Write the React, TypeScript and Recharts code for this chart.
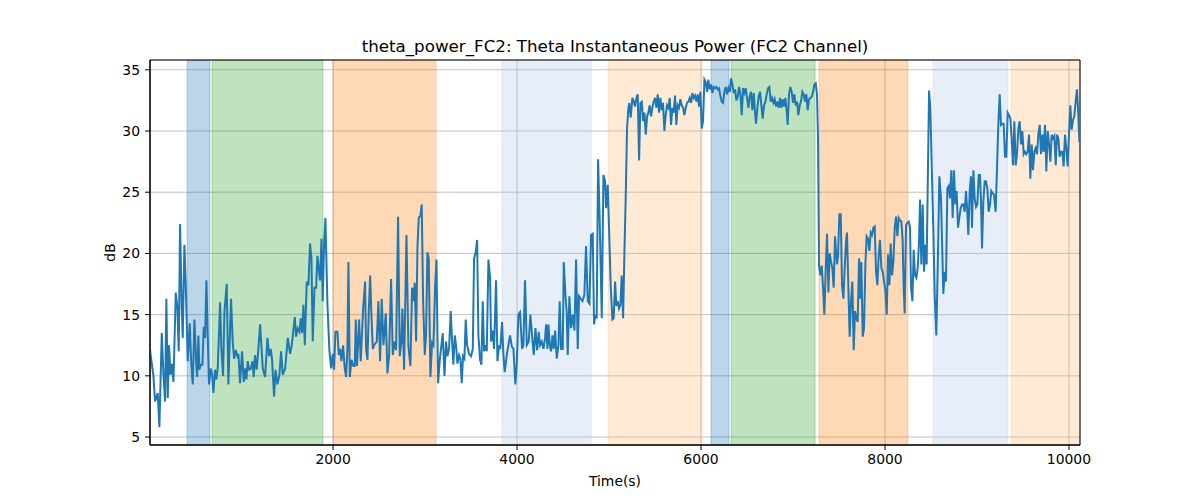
import React from 'react';
import { LineChart, Line, XAxis, YAxis, CartesianGrid, ReferenceArea, Label } from 'recharts';

// time (s) / power (dB) pairs
const seg1 = [
  [10, 12.2], [18, 11.6], [47, 10], [65, 7.9], [94, 8.6], [112, 5.8], [138, 13.5], [156, 10.1], [174, 7.9],
  [188, 16.3], [203, 8.2], [217, 12.5], [232, 10.1], [246, 11], [265, 9.5], [290, 16.8], [308, 15.5],
  [322, 12], [337, 22.4], [355, 15.5], [366, 13.1], [384, 20.7], [399, 17.4], [420, 11.2], [442, 14.3],
  [457, 11.2], [475, 9.3], [493, 14.6], [511, 11.2], [522, 9.9], [536, 13.3], [547, 10.5], [562, 10.9],
  [580, 10.9], [594, 14], [609, 13.1], [623, 17.8], [638, 13.1], [652, 9.3], [670, 10.6], [685, 10.1],
  [699, 8.6], [717, 10.5], [732, 9.7], [746, 10.6], [772, 16], [786, 12.2], [804, 10], [819, 15.2],
  [844, 17.5], [862, 9.3], [891, 16.3], [909, 12.8], [924, 11.4], [942, 12.1], [960, 11.6], [971, 11.8],
  [989, 9.4], [1011, 12], [1029, 9.5], [1043, 10.6], [1058, 9.7], [1072, 11.2], [1090, 10.5], [1109, 10.6],
  [1123, 11.2], [1138, 9.9], [1152, 11.7], [1170, 10.5], [1188, 12.2],
];
const seg2 = [
  [1207, 14.2], [1236, 10.6], [1261, 9.9], [1287, 13.1], [1305, 11.6], [1323, 12.2], [1337, 11.3],
  [1359, 8.3], [1374, 10.5], [1395, 9.3], [1417, 10.1], [1435, 12], [1453, 10.1], [1479, 10.6],
  [1508, 13.1], [1533, 11.8], [1551, 12.5], [1584, 14.8], [1598, 13.2], [1616, 13.9], [1635, 13.6],
  [1649, 14.7], [1664, 13.5], [1678, 15.8], [1693, 12.5], [1714, 17.7], [1732, 17.4], [1750, 20.8],
  [1765, 19.6], [1779, 12.8], [1798, 17.2], [1816, 17.2], [1830, 19.8], [1845, 18.7], [1859, 17.8],
  [1874, 21.2], [1888, 16.1], [1903, 21], [1917, 22.9], [1939, 15.8], [1961, 12], [1979, 10.6],
  [1997, 11.8], [2011, 10.5], [2026, 13.6], [2048, 13.6], [2062, 11.7], [2077, 12.2], [2091, 11.2],
  [2109, 12.5], [2127, 10.6], [2142, 9.9], [2156, 12.2], [2167, 19.3], [2182, 9.9], [2200, 11.3],
  [2221, 10.8], [2236, 10.8], [2247, 14.6], [2261, 10.8], [2283, 14.6], [2301, 11.2], [2327, 15.5],
  [2348, 17.7], [2359, 12.2], [2374, 11.3], [2388, 15.2], [2403, 18.2], [2417, 15], [2432, 12.2],
  [2446, 12.5],
];
const seg3 = [
  [2475, 12.8], [2493, 16.1], [2511, 11.2], [2529, 16.3], [2548, 12.5], [2573, 15.1], [2591, 10.2],
  [2609, 11.6], [2631, 17.9], [2649, 11.7], [2667, 12.8], [2685, 12.1], [2707, 23], [2725, 11.6],
  [2743, 12.8], [2754, 15.5], [2772, 10.5], [2798, 21.5], [2819, 12.4], [2841, 10.8], [2859, 17.2],
  [2874, 16.1], [2888, 17.6], [2903, 12.8], [2917, 20.4], [2932, 22.9], [2950, 23.1], [2964, 24],
  [2979, 16.1], [2997, 11.7], [3011, 13.3], [3026, 20.1], [3040, 19.6], [3058, 9.9], [3077, 12.7],
  [3091, 12.5], [3109, 17.2], [3124, 19.5], [3142, 9.4], [3160, 11.3], [3178, 12.5], [3192, 13.5],
  [3211, 10], [3229, 12.8], [3243, 11.6], [3261, 12.2], [3279, 15.3], [3294, 12.8], [3308, 10.9],
  [3323, 13.3], [3337, 12.5], [3352, 11], [3370, 11.7], [3384, 11.4], [3399, 9.4], [3413, 11.6],
  [3428, 11.4], [3442, 14.6], [3457, 12.5], [3479, 11.8], [3500, 11.6], [3519, 12.2], [3533, 19.6],
  [3551, 20.1], [3566, 21.1], [3580, 13.3], [3598, 11.3], [3613, 10.9], [3627, 16.1], [3642, 12],
  [3656, 12.5], [3671, 12], [3689, 19.5],
];
const seg4 = [
  [3707, 18], [3718, 12.8], [3736, 13.7], [3750, 12.2], [3772, 17.8], [3787, 11.2], [3805, 12.5],
  [3819, 12.2], [3837, 14.4], [3852, 11.7], [3866, 10.3], [3888, 11.7], [3906, 12.5], [3924, 13.3],
  [3943, 12.4], [3961, 12.2], [3982, 9.3], [3997, 10.9], [4015, 15], [4033, 15.2], [4055, 12.2],
  [4069, 12.5], [4087, 17.8], [4106, 12.5], [4127, 12.8], [4145, 15], [4163, 13.3], [4182, 11.7],
  [4200, 13.9], [4218, 12.1], [4236, 13.6], [4250, 12.5], [4269, 12.8], [4287, 12.2], [4305, 13.1],
  [4316, 14.2], [4330, 12.2], [4341, 14.2], [4356, 12.5], [4370, 12], [4385, 13.3], [4399, 12.2],
  [4414, 13.7], [4432, 11.4], [4450, 12.5], [4464, 16.1], [4479, 12.2], [4497, 12.2], [4508, 19.3],
  [4526, 16.6], [4540, 15.2], [4551, 11.7], [4569, 16.5], [4587, 13.9], [4606, 15], [4624, 13.7],
  [4642, 19.5], [4660, 12.2], [4674, 16.5], [4692, 16.3], [4711, 16.1], [4732, 16.6], [4750, 20.6],
  [4769, 16.1], [4787, 15.9], [4805, 21.5], [4823, 21.6], [4837, 14.2], [4852, 15], [4866, 14.7],
  [4881, 27.7], [4899, 22.6], [4921, 14.7], [4939, 26.4],
];
const seg5 = [
  [4957, 25.9], [4968, 23.7], [4986, 25.6], [5000, 22.1], [5019, 17.2], [5037, 14.6], [5051, 14.7],
  [5066, 17.7], [5080, 15.7], [5095, 16.1], [5109, 15.5], [5124, 15.8], [5138, 18.2], [5153, 14.7],
  [5167, 19.9], [5182, 24.8], [5196, 30.2], [5211, 31.9], [5221, 32.3], [5236, 31.1], [5254, 32.7],
  [5269, 32.4], [5283, 32], [5298, 32.7], [5312, 33], [5327, 27.6], [5341, 32.3], [5356, 32.4],
  [5370, 30.8], [5385, 31.5], [5399, 29.7], [5414, 31.2], [5428, 31.5], [5442, 32.1], [5457, 31.2],
  [5471, 31.9], [5486, 32.4], [5500, 32.7], [5515, 31.9], [5529, 33], [5544, 31.5], [5558, 32.7],
  [5573, 31.7], [5587, 32.3], [5602, 30], [5616, 31.3], [5631, 32.1], [5645, 31.9], [5660, 32.7],
  [5674, 30.5], [5689, 31.9], [5703, 31.5], [5718, 32.9], [5732, 30.5], [5747, 32.1], [5761, 31.9],
  [5776, 32.6], [5790, 32.1], [5805, 31.9], [5819, 31.3], [5834, 31.9], [5848, 32.3], [5863, 32.4],
  [5877, 32.7], [5892, 32.3], [5906, 33.1], [5921, 32.7], [5935, 32.9], [5950, 32.4], [5964, 33],
  [5979, 32], [5993, 33.2], [6008, 30.2], [6022, 30.8], [6037, 34.2], [6051, 34], [6066, 33.2],
  [6080, 34.2], [6095, 33.4], [6109, 33.8], [6124, 33.1], [6138, 33.6], [6153, 33.5], [6167, 33.6],
  [6182, 33.4], [6196, 33.5],
];
const seg6 = [
  [6207, 33], [6225, 32.4], [6240, 32.3], [6254, 33.2], [6269, 33.6], [6283, 33], [6298, 33.5],
  [6312, 33.2], [6327, 34.3], [6341, 33.8], [6356, 33.1], [6370, 33.4], [6385, 32.5], [6399, 32.8],
  [6414, 33.6], [6428, 33], [6443, 31.3], [6457, 33.5], [6471, 33.1], [6486, 33.5], [6500, 32.7],
  [6515, 31.9], [6529, 32.8], [6544, 33.2], [6558, 31.7], [6573, 33.1], [6587, 31.5], [6598, 30.6],
  [6613, 31.9], [6627, 32.8], [6642, 33.2], [6656, 32.1], [6671, 31], [6685, 32.1], [6700, 32.4],
  [6714, 33], [6729, 33.5], [6743, 33.6], [6758, 32.4], [6772, 32.7], [6787, 32.3], [6801, 32.6],
  [6816, 32], [6830, 32.4], [6845, 31.9], [6859, 32.7], [6874, 31.9], [6888, 32.6], [6903, 32],
  [6917, 32.7], [6932, 31.6], [6942, 30.5], [6957, 33], [6971, 33.6], [6986, 33.2], [7000, 32.3],
  [7015, 33], [7029, 32.1], [7044, 32.4], [7058, 31.3], [7073, 32.1], [7087, 32.4], [7102, 33.2],
  [7116, 33], [7131, 32.4], [7145, 33], [7160, 31.7], [7174, 32.6], [7189, 32.7], [7203, 32.8],
  [7218, 33.2], [7232, 33.8], [7247, 33.9], [7261, 33], [7272, 29.4], [7283, 19], [7298, 18.2],
  [7312, 19], [7327, 17.2], [7341, 15], [7356, 18.8], [7370, 21.6], [7385, 16.8], [7399, 20],
  [7414, 19.3], [7428, 18.8], [7442, 17.2],
];
const seg7 = [
  [7457, 21.4], [7468, 20.2], [7479, 19.1], [7490, 19.9], [7504, 23.2], [7519, 23.2], [7533, 17.4],
  [7548, 16.3], [7562, 18.8], [7577, 21], [7587, 21.7], [7602, 17.2], [7616, 13.2], [7631, 16.1],
  [7645, 17.7], [7660, 12.1], [7674, 15.3], [7689, 14.7], [7703, 14.4], [7718, 19.6], [7732, 16.3],
  [7743, 19.3], [7758, 13.2], [7772, 13.9], [7787, 19.1], [7801, 21.4], [7816, 21.2], [7830, 20.2],
  [7845, 21.7], [7859, 21.5], [7874, 22.1], [7888, 22.2], [7903, 18.5], [7917, 17.4], [7932, 19.9],
  [7946, 21.1], [7961, 18.8], [7975, 18.5], [7990, 17.7], [8004, 17], [8019, 15], [8033, 19.9],
  [8048, 17.4], [8062, 20.8], [8077, 18.2], [8091, 19.3], [8106, 22.1], [8120, 23], [8135, 21.4],
  [8149, 22.9], [8163, 22.7], [8178, 22.6], [8192, 21.1], [8203, 17.2], [8214, 15.1], [8229, 22.3],
  [8243, 22.5], [8258, 22.6], [8272, 22.1], [8283, 17.2], [8298, 16.1], [8312, 20.3], [8327, 18.2],
  [8341, 18], [8356, 18.8], [8370, 21], [8381, 24.4], [8395, 19.1], [8410, 24], [8424, 18.5],
  [8439, 20.7], [8453, 19.1], [8464, 25.1], [8479, 33.3], [8493, 31.9], [8508, 27.2], [8526, 21.8],
  [8540, 16.6], [8558, 13.3], [8577, 20.2], [8591, 26.3], [8609, 24.5], [8624, 19.9], [8634, 16.7],
  [8649, 18.5], [8663, 17.7], [8678, 25.3], [8692, 25.5],
];
const seg8 = [
  [8707, 24.5], [8721, 26.8], [8736, 22.9], [8750, 26.8], [8765, 24], [8779, 25.1], [8794, 22.1],
  [8808, 22.9], [8823, 23.7], [8837, 24], [8852, 24], [8866, 23.4], [8881, 25.1], [8895, 23.4],
  [8906, 21.5], [8921, 25.1], [8935, 26.3], [8946, 22.1], [8961, 26.8], [8975, 24.5], [8990, 23.8],
  [9004, 24], [9019, 26.4], [9033, 26.4], [9044, 24.2], [9055, 20.4], [9069, 24.2], [9084, 25.9],
  [9098, 25.9], [9113, 25.3], [9127, 23.4], [9142, 24], [9156, 25.1], [9171, 24.9], [9185, 24.8],
  [9203, 23.4], [9218, 27], [9232, 30.5], [9247, 33], [9261, 30.5], [9276, 30.6], [9290, 30.6],
  [9305, 27.9], [9319, 27.9], [9334, 31.5], [9348, 31.3], [9363, 31], [9377, 29.4], [9392, 27.2],
  [9406, 30.8], [9421, 27.2], [9435, 28.1], [9450, 30.2], [9464, 30.8], [9479, 28.9], [9493, 30],
  [9508, 28.1], [9522, 28.3], [9537, 28.1], [9551, 28.3], [9566, 29.7], [9580, 26.1], [9595, 28.9],
  [9609, 26.8], [9624, 28.3], [9638, 28.6], [9653, 28.1], [9667, 29.7], [9682, 30.5], [9696, 28.1],
  [9711, 29.7], [9725, 28.3], [9740, 30.5], [9754, 26.7], [9769, 30], [9783, 29], [9798, 27.5],
  [9812, 29.7], [9827, 29.4], [9841, 29.6], [9856, 27.2], [9870, 29.7], [9885, 29.4], [9899, 27.9],
  [9913, 28.3], [9928, 28.3], [9942, 27.1], [9957, 29.7], [9971, 28.6], [9986, 27.1], [10000, 29.7],
  [10015, 32.1], [10029, 30.1], [10044, 30.9], [10058, 31.2], [10073, 32.4], [10087, 33.4],
  [10102, 31.3], [10113, 29.1],
];

// shaded state intervals
const bandStart = [413, 685, 2000, 3837, 4990, 6109, 6327, 7283, 8522, 9370];
const bandEnd = [663, 1891, 3120, 4805, 6011, 6305, 7240, 8250, 9337, 10120];
const bandKind = ['a', 'b', 'c', 'd', 'e', 'a', 'b', 'c', 'd', 'e'];

const xTicks = [2000, 4000, 6000, 8000, 10000];
const yTicks = [5, 10, 15, 20, 25, 30, 35];
const X_MIN = 10;
const X_MAX = 10120;
const Y_MIN = 4.35;
const Y_MAX = 35.8;

const kindColor: Record<string, string> = {
  a: '#1f77b4',
  b: '#2ca02c',
  c: '#ff7f0e',
  d: '#aec7e8',
  e: '#ffbb78',
};

const data = [...seg1, ...seg2, ...seg3, ...seg4, ...seg5, ...seg6, ...seg7, ...seg8].map(([t, v]) => ({ t, v }));

const font = 'DejaVu Sans, sans-serif';
const tickStyle = { fill: '#000', fontSize: 13.9, fontFamily: font };

export default function App() {
  return (
    <div style={{ position: 'absolute', left: 0, top: 0, width: 1200, height: 500, background: '#fff' }}>
      <svg width={1200} height={500} style={{ position: 'absolute', left: 0, top: 0, pointerEvents: 'none' }}>
        <text x={615} y={52} textAnchor="middle" fontFamily={font} fontSize={16.7} fill="#000">
          theta_power_FC2: Theta Instantaneous Power (FC2 Channel)
        </text>
      </svg>
      <LineChart
        width={1200}
        height={500}
        data={data}
        margin={{ top: 60, right: 120, bottom: 0, left: 90 }}
        style={{ fontFamily: font }}
      >
        <CartesianGrid stroke="#b0b0b0" strokeWidth={0.8} vertical horizontal />
        {bandStart.map((s, i) => (
          <ReferenceArea
            key={i}
            x1={s}
            x2={bandEnd[i]}
            fill={kindColor[bandKind[i]]}
            fillOpacity={0.3}
            stroke={kindColor[bandKind[i]]}
            strokeOpacity={0.3}
            ifOverflow="hidden"
          />
        ))}
        <XAxis
          dataKey="t"
          type="number"
          domain={[X_MIN, X_MAX]}
          ticks={xTicks}
          allowDataOverflow
          height={55}
          tickSize={5}
          tickMargin={4}
          tick={tickStyle}
          tickLine={{ stroke: '#000' }}
          axisLine={{ stroke: '#000' }}
        >
          <Label value="Time(s)" position="insideBottom" offset={14} style={{ fill: '#000', fontSize: 13.9, fontFamily: font }} />
        </XAxis>
        <YAxis
          type="number"
          domain={[Y_MIN, Y_MAX]}
          ticks={yTicks}
          allowDataOverflow
          width={60}
          tickSize={5}
          tickMargin={5}
          tick={tickStyle}
          tickLine={{ stroke: '#000' }}
          axisLine={{ stroke: '#000' }}
        >
          <Label
            value="dB"
            angle={-90}
            position="insideLeft"
            offset={20}
            style={{ fill: '#000', fontSize: 13.9, fontFamily: font, textAnchor: 'middle' }}
          />
        </YAxis>
        <Line
          type="linear"
          dataKey="v"
          stroke="#1f77b4"
          strokeWidth={2}
          dot={false}
          activeDot={false}
          isAnimationActive={false}
        />
        <ReferenceArea x1={X_MIN} x2={X_MAX} y1={Y_MIN} y2={Y_MAX} fill="none" stroke="#000" strokeWidth={1} />
      </LineChart>
    </div>
  );
}
